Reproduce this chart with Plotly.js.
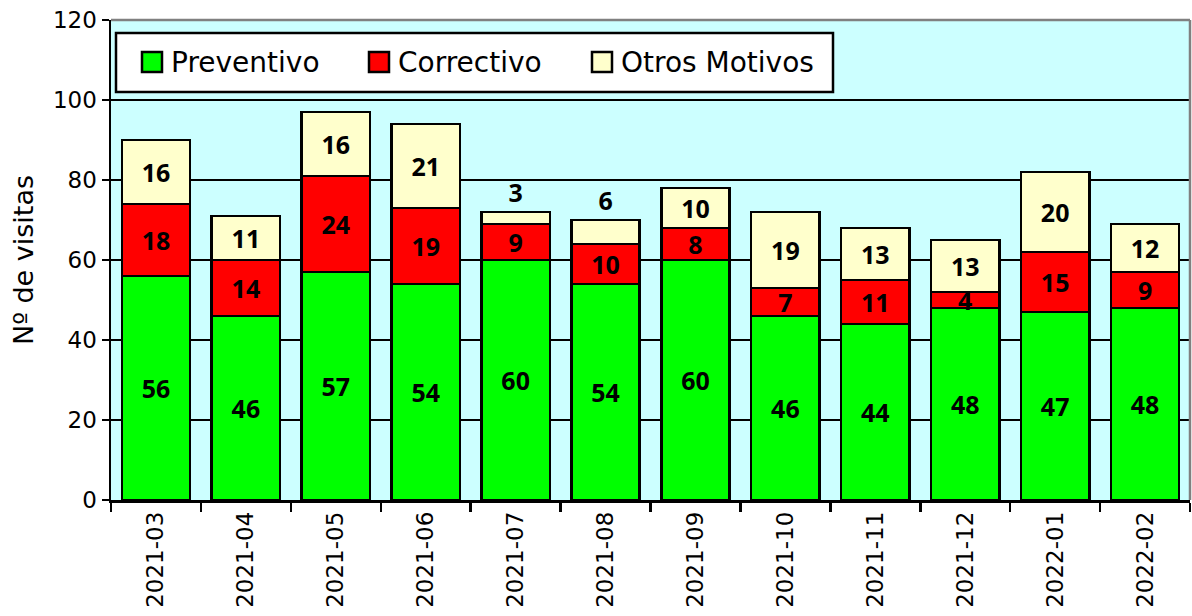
<!DOCTYPE html>
<html><head><meta charset="utf-8">
<script src="https://cdn.plot.ly/plotly-3.0.1.min.js"></script>
<style>body{margin:0;padding:0;background:#fff}#c{width:1192px;height:616px}</style>
</head><body><div id="c"></div>
<script>
const months = ["2021-03","2021-04","2021-05","2021-06","2021-07","2021-08","2021-09","2021-10","2021-11","2021-12","2022-01","2022-02"];
const preventivo = [56,46,57,54,60,54,60,46,44,48,47,48];
const correctivo = [18,14,24,19,9,10,8,7,11,4,15,9];
const otros = [16,11,16,21,3,6,10,19,13,13,20,12];
const seriesNames = ["Preventivo","Correctivo","Otros Motivos"];
const seriesColors = ["#00ff00","#ff0000","#ffffcc"];

const AX = "DejaVu Sans, sans-serif";
const LBL = "Noto Sans, Open Sans, sans-serif";
function mk(i, vals, posFn){
  return {type:'bar', name:seriesNames[i], x:months, y:vals,
    marker:{color:seriesColors[i], line:{color:'#000', width:2.5}},
    text:vals.map(String),
    textposition: vals.map(posFn),
    insidetextanchor:'middle',
    textangle:0,
    constraintext:'none',
    cliponaxis:false,
    textfont:{family:LBL, size:25, color:'#000', weight:'bold'},
    showlegend:false,
    hoverinfo:'x+y+name'};
}
const data = [
  mk(0, preventivo, v=>'inside'),
  mk(1, correctivo, v=>'inside'),
  mk(2, otros, v=> v<8 ? 'outside' : 'inside')
];

// plot area in pixels
const L=111, R=1190, T=20, B=500;
const px = x => (x-L)/(R-L);
const py = y => (B-y)/(B-T);

const shapes = [
  // gray frame top/right
  {type:'line', xref:'paper', yref:'paper', x0:0, x1:1, y0:1, y1:1, line:{color:'#808080', width:2.5}},
  {type:'line', xref:'paper', yref:'paper', x0:1, x1:1, y0:0, y1:1, line:{color:'#808080', width:2.5}},
  // legend box
  {type:'rect', xref:'paper', yref:'paper', x0:px(116), x1:px(833), y0:py(92), y1:py(33),
   fillcolor:'#ffffff', line:{color:'#000', width:2.5}, layer:'above'}
];
const annotations = [];
const legMarkX = [142, 369, 592];
const legTextX = [169, 396, 619];
for (let i=0;i<3;i++){
  shapes.push({type:'rect', xref:'paper', yref:'paper', x0:px(legMarkX[i]), x1:px(legMarkX[i]+20),
    y0:py(72), y1:py(52), fillcolor:seriesColors[i], line:{color:'#000', width:2.5}, layer:'above'});
  annotations.push({xref:'paper', yref:'paper', x:px(legTextX[i]), y:py(62), xanchor:'left', yanchor:'middle',
    text:seriesNames[i], showarrow:false, font:{family:AX, size:28, color:'#000'}});
}

const layout = {
  width:1192, height:616,
  margin:{l:L, r:1192-R, t:T, b:616-B},
  barmode:'stack', bargap:0.24,
  paper_bgcolor:'#ffffff', plot_bgcolor:'#ccffff',
  font:{family:AX, color:'#000'},
  showlegend:false,
  shapes:shapes, annotations:annotations,
  xaxis:{type:'category', showline:true, linecolor:'#000', linewidth:2.5,
    ticks:'outside', tickson:'boundaries', ticklen:9, tickwidth:2.5, tickcolor:'#000',
    tickangle:-90, tickfont:{family:AX, size:23, color:'#000'}, showgrid:false},
  yaxis:{range:[0,120], dtick:20, showline:true, linecolor:'#000', linewidth:2.5,
    ticks:'outside', ticklen:7, tickwidth:2.5, tickcolor:'#000',
    showgrid:true, gridcolor:'#000', gridwidth:2,
    tickfont:{family:AX, size:23, color:'#000'},
    title:{text:'Nº de visitas', font:{family:AX, size:27, color:'#000'}, standoff:12},
    zeroline:false}
};
Plotly.newPlot('c', data, layout, {displayModeBar:false, staticPlot:true});
</script></body></html>
